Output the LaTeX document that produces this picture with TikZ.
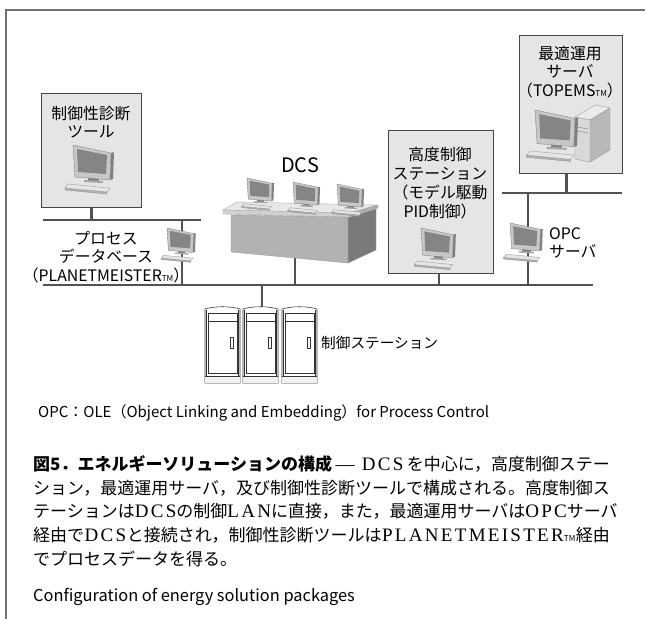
\documentclass[tikz,border=0pt]{standalone}
\usepackage{fontspec}
\setmainfont{Liberation Sans}
\newfontfamily\jp{Noto Sans CJK JP}
\newfontfamily\lat[Scale=1.12, LetterSpace=12]{Liberation Serif}
\newcommand\tmark{{\fontsize{7}{7}\selectfont TM}}
\newcommand\en[1]{\hspace{0pt plus 1fil}{\lat #1}\hspace{0pt plus 1fil}}

\begin{document}
\begin{tikzpicture}[x=0.03cm, y=-0.03cm,
    frame/.style = {draw=black!55, line width=1.1pt},
    bus/.style = {draw=black!68, line width=2.3pt},
    unit/.style = {draw=black!72, fill=black!10, line width=1.1pt, anchor=north west},
    lbl/.style = {font=\jp\fontsize{13.5}{16}\selectfont, align=center, inner sep=0pt},
    capline/.style = {font=\jp\fontsize{14.5}{20.4}\selectfont, align=left, inner sep=0pt},
    monitor/.pic = {
        % keyboard
        \filldraw[draw=black!45, fill=black!30, line width=0.3pt] (-8,43) -- (34,47) -- (34,49) -- (-8,45) -- cycle;
        \filldraw[draw=black!40, fill=black!10, line width=0.3pt] (-5,39) -- (37,43) -- (34,47) -- (-8,43) -- cycle;
        % stand
        \fill[black!50] (15,31) rectangle (26,36);
        \fill[black!35] (11,35) -- (30,36) -- (30,38) -- (11,37) -- cycle;
        % casing
        \fill[black!50] (38,8) -- (41,7) -- (40,34) -- (37,35) -- cycle;
        \filldraw[draw=black!50, fill=black!22, line width=0.3pt] (0,0) -- (38,8) -- (37,35) -- (2,32) -- cycle;
        \fill[black!48] (4,4) -- (34,10) -- (33,29) -- (5,27) -- cycle;
    },
    tower/.pic = {
        \filldraw[draw=black!40, fill=black!8, line width=0.3pt] (0,0) -- (20,-12) -- (35,-9) -- (15,3) -- cycle;
        \filldraw[draw=black!40, fill=black!28, line width=0.3pt] (15,3) -- (35,-9) -- (35,33) -- (15,45) -- cycle;
        \filldraw[draw=black!40, fill=black!15, line width=0.3pt] (0,0) -- (15,3) -- (15,45) -- (0,42) -- cycle;
        \draw[black!45, line width=0.4pt] (2,10) -- (13,12) (2,14) -- (13,16);
    },
    cabinet/.pic = {
        \filldraw[draw=black!80, fill=white, line width=0.5pt] (0,77) -- (0,3) .. controls (10,0) and (25,0) .. (35,3) -- (35,77) -- cycle;
        \fill[black!6] (0.3,70) rectangle (34.7,76.7);
        \draw[black!80, line width=0.4pt] (1.6,70) -- (1.6,4) (33.4,70) -- (33.4,4);
        \draw[black!80, line width=0.5pt] (3,7) rectangle (32,67) (3,15) -- (32,15) (0,70) -- (35,70);
        \draw[black!80, line width=0.4pt] (25,31) rectangle (28,42);
    }]

    \useasboundingbox (0,0) rectangle (645,619);
    \draw[frame] (6,619) -- (6,10) -- (645,10);

    % network
    \coordinate (mainW) at (43,285);
    \coordinate (mainE) at (593,285);
    \coordinate (leftW) at (43,220);
    \coordinate (leftE) at (201,220);
    \coordinate (rightW) at (502,193);
    \coordinate (rightE) at (622,193);
    \coordinate (dbtap) at (182,220);
    \coordinate (deskfoot) at (295,258);
    \coordinate (cabtop) at (262,307);
    \coordinate (opctap) at (528,193);

    % stations
    \node[unit, minimum width=3cm, minimum height=3.42cm] (tool) at (41,93) {};
    \node[unit, minimum width=3.15cm, minimum height=4.29cm] (apc) at (388,130) {};
    \node[unit, minimum width=3.09cm, minimum height=4.14cm] (opt) at (519,35) {};

    \draw[bus] (mainW) -- (mainE);
    \draw[bus] (leftW) -- (leftE);
    \draw[bus] (rightW) -- (rightE);
    \draw[bus] (tool.south) -- (tool.south |- leftW);
    \draw[bus] (dbtap) -- (dbtap |- mainW);
    \draw[bus] (deskfoot) -- (deskfoot |- mainW);
    \draw[bus] (cabtop |- mainW) -- (cabtop);
    \draw[bus] ([xshift=-0.06cm]apc.south) -- ([xshift=-0.06cm]apc.south |- mainW);
    \draw[bus] ([xshift=-0.15cm]opt.south) -- ([xshift=-0.15cm]opt.south |- rightW);
    \draw[bus] (opctap) -- (opctap |- mainW);

    % DCS operator desk
    \filldraw[draw=black!40, fill=black!52, line width=0.3pt] (348,217) -- (376,209) -- (376,250) -- (348,263) -- cycle;
    \filldraw[draw=black!40, fill=black!30, line width=0.3pt] (231,215) -- (348,217) -- (348,263) -- (231,252) -- cycle;
    \filldraw[draw=black!35, fill=black!9, line width=0.3pt] (223,210) -- (237,202) -- (378,205) -- (350,213) -- cycle;
    \filldraw[draw=black!35, fill=black!18, line width=0.3pt] (223,210) -- (350,213) -- (350,217) -- (223,214) -- cycle;
    \filldraw[draw=black!35, fill=black!32, line width=0.3pt] (350,213) -- (378,205) -- (378,208) -- (350,217) -- cycle;
    \pic[scale=0.66] at (247,178) {monitor};
    \pic[scale=0.66] at (293,182) {monitor};
    \pic[scale=0.66] at (337,184) {monitor};

    % terminals
    \pic at (73,145) {monitor};
    \pic[scale=0.7] at (167,228) {monitor};
    \pic[scale=0.85] at (421,228) {monitor};
    \pic[scale=0.8] at (510,223) {monitor};
    \pic at (575,117) {tower};
    \pic[scale=1.05] at (535,110) {monitor};

    % control stations
    \pic at (205,306) {cabinet};
    \pic at (243,306) {cabinet};
    \pic at (282,306) {cabinet};

    % labels
    \node[lbl] (toolname) at (91,122) {制御性診断\\ツール};
    \node[lbl] (dbname) at (106,257) {プロセス\\データベース\\（PLANETMEISTER\tmark）};
    \node[lbl, font=\jp\fontsize{17}{17}\selectfont] (dcsname) at (300,165) {DCS};
    \node[lbl] (apcname) at (440,183) {高度制御\\ステーション\\（モデル駆動\\PID制御）};
    \node[lbl] (optname) at (570,72) {最適運用\\サーバ\\（TOPEMS\tmark）};
    \node[lbl, align=left, anchor=west] (opcname) at (549,243) {OPC\\サーバ};
    \node[lbl, anchor=west, font=\jp\fontsize{12.5}{15}\selectfont] (cabname) at (321,343) {制御ステーション};

    \node[anchor=west, inner sep=0pt, font=\jp\fontsize{12.8}{15}\selectfont] (note) at (38,413)
        {OPC：OLE（Object Linking and Embedding）for Process Control};

    \node[capline, anchor=north west] (caption) at (33,455)
        {\makebox[17.3cm][s]{{\bfseries 図5．エネルギーソリューションの構成}\en{—}\en{DCS}を中心に，高度制御ステー}\\
         ション，最適運用サーバ，及び制御性診断ツールで構成される。高度制御ス\\
         \makebox[17.3cm][s]{テーションは\en{DCS}の制御\en{LAN}に直接，また，最適運用サーバは\en{OPC}サーバ}\\
         \makebox[17.3cm][s]{経由で\en{DCS}と接続され，制御性診断ツールは\en{PLANETMEISTER{\jp\tmark}}経由}\\
         でプロセスデータを得る。};
    \node[anchor=west, inner sep=0pt, font=\jp\fontsize{14}{16}\selectfont] (english) at (33,597)
        {Configuration of energy solution packages};
\end{tikzpicture}
\end{document}
